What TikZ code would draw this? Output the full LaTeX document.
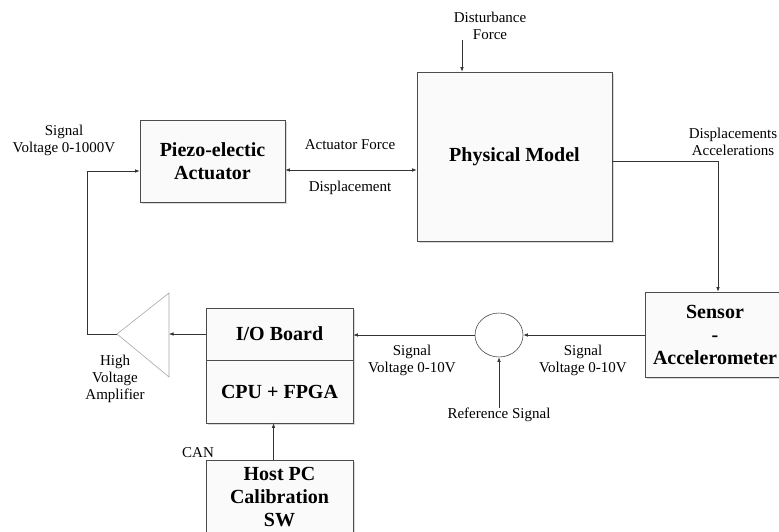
\documentclass[tikz,border=0pt]{standalone}
\usepackage{fontspec}
\setmainfont{Liberation Serif}
\usetikzlibrary{shapes.geometric,shadows,arrows.meta}

\tikzset{
  blk/.style={draw=black!70, fill=black!2, line width=0.6pt, align=center, inner sep=0pt,
    font=\fontsize{20}{23}\selectfont\bfseries,
    drop shadow={shadow xshift=1.5pt, shadow yshift=-1.5pt, opacity=0.3}},
  lbl/.style={align=center, inner sep=0pt, font=\fontsize{15}{17}\selectfont},
  arr/.style={draw=black!80, line width=0.6pt, -{Latex[length=4.5pt,width=3.5pt]}},
  arrboth/.style={draw=black!80, line width=0.6pt, {Latex[length=4.5pt,width=3.5pt]}-{Latex[length=4.5pt,width=3.5pt]}},
}

\begin{document}
\begin{tikzpicture}[x=1pt,y=-1pt]
\useasboundingbox (0,0) rectangle (779,531);

% blocks
\node[blk, minimum width=145pt, minimum height=82pt] (piezo) at (212.5,161) {Piezo-electic\\Actuator};
\node[blk, minimum width=195pt, minimum height=169pt] (phys) at (514.5,156.5) {Physical Model};
\node[blk, minimum width=140pt, minimum height=85pt] (sensor) at (715,334.5) {Sensor\\-\\Accelerometer};
\node[blk, minimum width=147pt, minimum height=52pt] (io) at (279.5,334) {I/O Board};
\node[blk, minimum width=147pt, minimum height=63pt] (cpu) at (279.5,391.5) {CPU + FPGA};
\node[blk, minimum width=147pt, minimum height=74pt] (host) at (279.5,497) {Host PC\\Calibration\\SW};
\node[draw=black!70, fill=white, ellipse, line width=0.6pt, minimum width=48pt, minimum height=44pt, inner sep=0pt] (sum) at (499,335) {};

% amplifier
\coordinate (ampin) at (169,334);
\coordinate (ampout) at (117,334);
\draw[black!35, line width=0.6pt] (ampout) -- (169,293) -- (169,377) -- cycle;

% labels
\node[lbl] (sighv) at (64,140) {Signal\\Voltage 0-1000V};
\node[lbl] (actforce) at (350,145) {Actuator Force};
\node[lbl] (displ) at (350,188) {Displacement};
\node[lbl] (dist) at (490,26) {Disturbance\\Force};
\node[lbl] (dispacc) at (733,142) {Displacements\\Accelerations};
\node[lbl] (sigsens) at (583,360) {Signal\\Voltage 0-10V};
\node[lbl] (sigio) at (412,360) {Signal\\Voltage 0-10V};
\node[lbl] (refsig) at (499,415) {Reference Signal};
\node[lbl] (hva) at (115,379) {High\\Voltage\\Amplifier};
\node[lbl] (can) at (198,453) {CAN};

% connectors
\draw[arrboth] ([yshift=-9pt]piezo.east) coordinate (pe) -- (pe -| phys.west);
\draw[arr] (dist.south -| 462,0) -- (462,0 |- phys.north);
\draw[arr] ([yshift=-5pt]phys.east) -| (sensor.north -| 718,0);
\draw[arr] (sensor.west |- sum.east) -- (sum.east);
\draw[arr] (sum.west) -- (sum.west -| io.east);
\draw[arr] (refsig.north) -- (sum.south);
\draw[arr] (io.west) -- (ampin);
\draw[arr] (ampout) -- ++(-30,0) |- ([yshift=-10pt]piezo.west);
\draw[arr] ([xshift=-6pt]host.north) -- ([xshift=-6pt]cpu.south);

\end{tikzpicture}
\end{document}
